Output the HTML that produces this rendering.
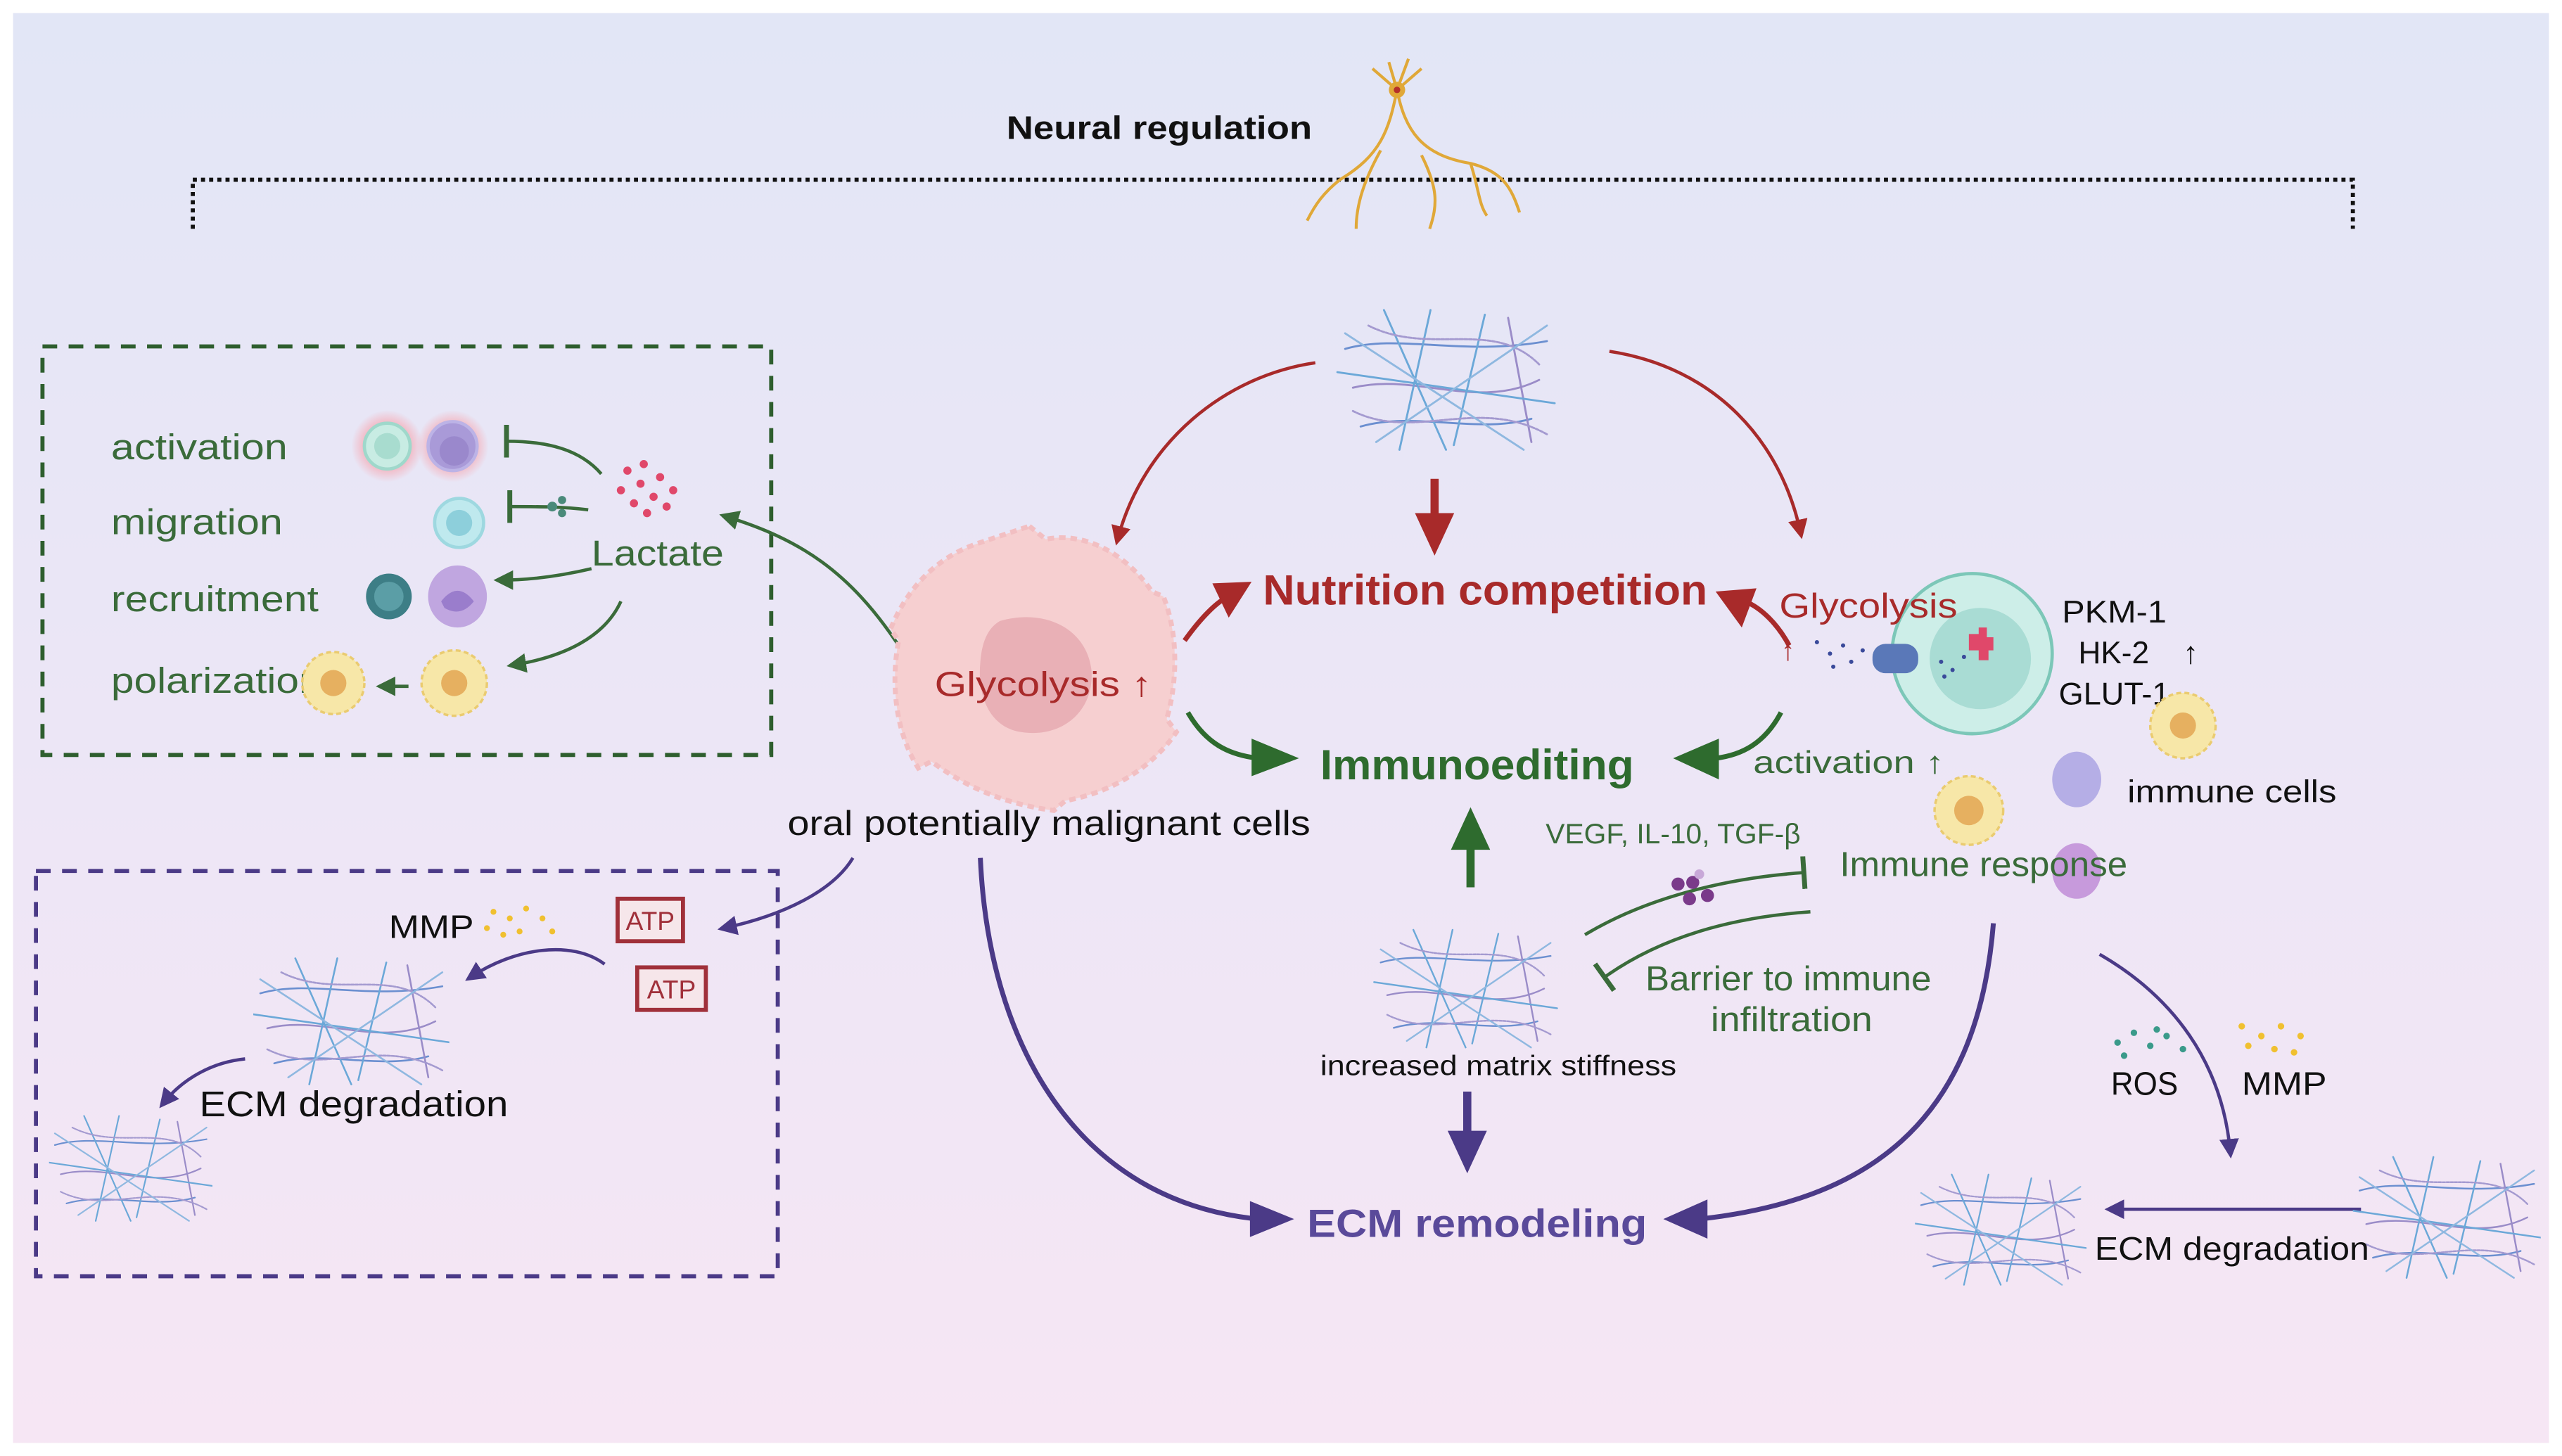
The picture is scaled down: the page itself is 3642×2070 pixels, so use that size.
<!DOCTYPE html>
<html><head><meta charset="utf-8"><style>
html,body{margin:0;padding:0;background:#fff;}
svg{display:block;}
text{font-family:"Liberation Sans",sans-serif;}
</style></head><body>
<svg width="3642" height="2070" viewBox="0 0 1568 891" preserveAspectRatio="none" xmlns="http://www.w3.org/2000/svg">
<defs>
<linearGradient id="bg" x1="0" y1="0" x2="0" y2="1">
<stop offset="0" stop-color="#e2e6f6"/><stop offset="0.5" stop-color="#ece6f6"/><stop offset="1" stop-color="#f6e6f4"/>
</linearGradient>
<radialGradient id="glow"><stop offset="0.6" stop-color="#f3b5c0"/><stop offset="1" stop-color="#f3b5c0" stop-opacity="0"/></radialGradient>
<symbol id="fib" viewBox="0 0 140 100">
<g fill="none" stroke-width="1.3" stroke-linecap="round">
<path d="M5 30 C40 20 80 35 135 25" stroke="#6b8fd0"/>
<path d="M10 55 C50 45 90 70 130 50" stroke="#9a8cc8"/>
<path d="M15 80 C50 70 90 85 125 75" stroke="#6b8fd0"/>
<path d="M30 5 L70 95" stroke="#6ba8d8"/>
<path d="M60 5 L40 95" stroke="#6ba8d8"/>
<path d="M95 8 L75 92" stroke="#6ba8d8"/>
<path d="M110 10 L125 90" stroke="#9a8cc8"/>
<path d="M0 45 L140 65" stroke="#6ba8d8"/>
<path d="M20 15 C60 35 100 10 130 40" stroke="#a49ad0" stroke-dasharray="2 1"/>
<path d="M10 70 C50 90 90 60 135 85" stroke="#a49ad0" stroke-dasharray="2 1"/>
<path d="M5 20 L120 95" stroke="#8fb8e0"/>
<path d="M135 15 L25 90" stroke="#8fb8e0"/>
</g>
</symbol>
<marker id="ag" markerWidth="6" markerHeight="6" refX="4" refY="3" orient="auto"><path d="M0 0L6 3L0 6z" fill="#3a6b3a"/></marker>
<marker id="ar" markerWidth="6" markerHeight="6" refX="4" refY="3" orient="auto"><path d="M0 0L6 3L0 6z" fill="#a82a2a"/></marker>
<marker id="ap" markerWidth="6" markerHeight="6" refX="4" refY="3" orient="auto"><path d="M0 0L6 3L0 6z" fill="#4b3a87"/></marker>
<marker id="tg" markerWidth="2" markerHeight="10" refX="1" refY="5" orient="auto"><path d="M1 0V10" stroke="#3a6b3a" stroke-width="1.5"/></marker>
</defs>
<rect x="0" y="0" width="1568" height="891" fill="#fff"/>
<rect x="8" y="8" width="1552" height="875" fill="url(#bg)"/>

<text x="616" y="85" font-size="20" font-weight="bold" fill="#111" textLength="187" lengthAdjust="spacingAndGlyphs">Neural regulation</text>
<path d="M118 140V110H1440V140" fill="none" stroke="#111" stroke-width="2.5" stroke-dasharray="2.5 2.5"/>
<g stroke="#e0a838" stroke-width="1.8" fill="none">
<path d="M855 55 C850 80 845 95 820 110 C810 118 805 125 800 135"/>
<path d="M855 55 C860 80 870 95 900 100 C920 105 925 115 930 130"/>
<path d="M845 92 C835 110 830 125 830 140"/>
<path d="M870 95 C880 115 880 125 875 140"/>
<path d="M900 100 C905 115 905 125 910 132"/>
<path d="M855 55 L840 42 M855 55 L870 42 M855 55 L850 38 M855 55 L862 36"/>
</g>
<circle cx="855" cy="55" r="5" fill="#e0a838"/><circle cx="855" cy="55" r="2" fill="#b5302a"/>

<rect x="26" y="212" width="446" height="250" fill="none" stroke="#2e5e2e" stroke-width="2.5" stroke-dasharray="9 7"/>
<g font-size="22" fill="#3a6b3a">
<text x="68" y="281" textLength="108" lengthAdjust="spacingAndGlyphs">activation</text>
<text x="68" y="327" textLength="105" lengthAdjust="spacingAndGlyphs">migration</text>
<text x="68" y="374" textLength="127" lengthAdjust="spacingAndGlyphs">recruitment</text>
<text x="68" y="424" textLength="129" lengthAdjust="spacingAndGlyphs">polarization</text>
<text x="362" y="346" textLength="81" lengthAdjust="spacingAndGlyphs">Lactate</text>
</g>
<circle cx="237" cy="273" r="22" fill="url(#glow)"/><circle cx="277" cy="273" r="22" fill="url(#glow)"/>
<circle cx="237" cy="273" r="14" fill="#c8ece3" stroke="#9fd8cb" stroke-width="2"/><circle cx="237" cy="273" r="8" fill="#a8dccf"/>
<circle cx="277" cy="273" r="15" fill="#a99ad8" stroke="#bcb3e6" stroke-width="2"/><circle cx="278" cy="276" r="9" fill="#9a88cc"/>
<circle cx="281" cy="320" r="15" fill="#bfe9ee" stroke="#9ed8e0" stroke-width="2"/><circle cx="281" cy="320" r="8" fill="#8dcfdb"/>
<circle cx="238" cy="365" r="14" fill="#3d7e86"/><circle cx="238" cy="365" r="9" fill="#5b9ea6"/>
<ellipse cx="280" cy="365" rx="18" ry="19" fill="#c0a6e0"/><path d="M270 368 Q280 355 290 368 Q282 378 272 372" fill="#9a7dcc"/>
<g fill="#f7e7a8" stroke="#eacb70" stroke-width="1.5" stroke-dasharray="3 2">
<circle cx="204" cy="418" r="19"/><circle cx="278" cy="418" r="20"/>
</g>
<circle cx="204" cy="418" r="8" fill="#e6b060"/><circle cx="278" cy="418" r="8" fill="#e6b060"/>
<g fill="#e0486a"><circle cx="384" cy="288" r="2.5"/><circle cx="394" cy="284" r="2.5"/><circle cx="380" cy="300" r="2.5"/><circle cx="392" cy="296" r="2.5"/><circle cx="404" cy="292" r="2.5"/><circle cx="388" cy="308" r="2.5"/><circle cx="400" cy="304" r="2.5"/><circle cx="412" cy="300" r="2.5"/><circle cx="396" cy="314" r="2.5"/><circle cx="408" cy="310" r="2.5"/></g>
<g fill="none" stroke="#3a6b3a" stroke-width="2">
<path d="M368 290 C355 275 335 270 310 270" marker-end="url(#tg)"/>
<path d="M360 312 C345 310 330 310 312 310" marker-end="url(#tg)"/>
<path d="M362 348 C345 352 325 355 306 355" marker-end="url(#ag)"/>
<path d="M380 368 C370 390 345 402 314 407" marker-end="url(#ag)"/>
<path d="M250 420 L234 420" marker-end="url(#ag)"/>
<path d="M550 395 C520 350 490 330 444 316" marker-end="url(#ag)"/>
</g>
<g fill="#4a8a7a"><circle cx="338" cy="310" r="3"/><circle cx="344" cy="306" r="2.5"/><circle cx="344" cy="314" r="2.5"/></g>

<rect x="22" y="533" width="454" height="248" fill="none" stroke="#4b3a87" stroke-width="2.5" stroke-dasharray="9 7"/>
<text x="238" y="574" font-size="20" fill="#111" textLength="52" lengthAdjust="spacingAndGlyphs">MMP</text>
<g fill="#f0c030"><circle cx="302" cy="558" r="1.8"/><circle cx="312" cy="562" r="1.8"/><circle cx="322" cy="556" r="1.8"/><circle cx="298" cy="568" r="1.8"/><circle cx="318" cy="570" r="1.8"/><circle cx="332" cy="562" r="1.8"/><circle cx="338" cy="570" r="1.8"/><circle cx="308" cy="572" r="1.8"/></g>
<g font-size="16" fill="#a0303a"><rect x="378" y="550" width="40" height="26" fill="#f6e6ea" stroke="#a0303a" stroke-width="2.5"/><text x="383" y="569">ATP</text>
<rect x="390" y="592" width="42" height="26" fill="#f6e6ea" stroke="#a0303a" stroke-width="2.5"/><text x="396" y="611">ATP</text></g>
<use href="#fib" x="155" y="580" width="120" height="90"/>
<use href="#fib" x="30" y="675" width="100" height="80"/>
<text x="122" y="683" font-size="22" fill="#111" textLength="189" lengthAdjust="spacingAndGlyphs">ECM degradation</text>
<g fill="none" stroke="#4b3a87" stroke-width="2">
<path d="M370 590 C350 575 315 580 288 598" marker-end="url(#ap)"/>
<path d="M150 648 C130 650 112 660 100 675" marker-end="url(#ap)"/>
<path d="M522 525 C510 545 480 560 443 568" marker-end="url(#ap)"/>
</g>

<path d="M630 322 L640 330 C665 325 690 340 705 362 L712 365 C722 390 720 420 714 440 L720 448 C705 470 680 485 652 490 L645 496 C615 492 592 482 570 466 L562 470 C548 448 545 418 550 392 L545 385 C556 358 575 340 600 332 Z" fill="#f6cfd0" stroke="#f2bfc2" stroke-width="3" stroke-dasharray="4 3"/>
<path d="M612 380 C640 372 665 385 668 410 C670 435 650 452 625 448 C605 445 598 425 600 405 C601 392 605 384 612 380Z" fill="#e9b0b6"/>
<text x="572" y="426" font-size="21" fill="#a82a2a" textLength="133" lengthAdjust="spacingAndGlyphs">Glycolysis ↑</text>
<text x="482" y="511" font-size="21" fill="#111" textLength="320" lengthAdjust="spacingAndGlyphs">oral potentially malignant cells</text>

<use href="#fib" x="815" y="185" width="140" height="95"/>
<g fill="none" stroke="#a82a2a" stroke-width="2">
<path d="M805 222 C750 230 700 270 684 330" marker-end="url(#ar)"/>
<path d="M985 215 C1050 225 1090 270 1102 326" marker-end="url(#ar)"/>
</g>
<path d="M878 293V318" stroke="#a82a2a" stroke-width="5"/><path d="M866 314L878 340L890 314z" fill="#a82a2a"/>
<text x="773" y="370" font-size="26" font-weight="bold" fill="#a82a2a" textLength="272" lengthAdjust="spacingAndGlyphs">Nutrition competition</text>
<path d="M725 392 C735 378 745 368 752 365" fill="none" stroke="#a82a2a" stroke-width="3"/><path d="M742 357L766 356L752 378z" fill="#a82a2a"/>
<path d="M1095 395 C1088 382 1078 372 1068 368" fill="none" stroke="#a82a2a" stroke-width="3"/><path d="M1050 362L1075 360L1066 384z" fill="#a82a2a"/>

<text x="808" y="477" font-size="26" font-weight="bold" fill="#2e6b2e" textLength="192" lengthAdjust="spacingAndGlyphs">Immunoediting</text>
<path d="M727 436 C738 455 752 462 770 464" fill="none" stroke="#2e6b2e" stroke-width="3"/><path d="M766 452L795 464L766 475z" fill="#2e6b2e"/>
<path d="M1090 436 C1080 455 1066 462 1050 464" fill="none" stroke="#2e6b2e" stroke-width="3"/><path d="M1052 452L1024 464L1052 477z" fill="#2e6b2e"/>
<path d="M900 543V515" stroke="#2e6b2e" stroke-width="5"/><path d="M888 520L900 494L912 520z" fill="#2e6b2e"/>

<circle cx="1207" cy="400" r="49" fill="#cdeee8" stroke="#7cc7b8" stroke-width="2"/>
<circle cx="1212" cy="403" r="31" fill="#a9dcd4"/>
<path d="M1205 388h6v-4h5v6h4v8h-3v6h-6v-6h-6z" fill="#e0486a"/>
<rect x="1146" y="394" width="28" height="18" rx="8" fill="#5a78b8"/>
<g fill="#3a4a9a"><circle cx="1112" cy="393" r="1.3"/><circle cx="1120" cy="400" r="1.3"/><circle cx="1128" cy="395" r="1.3"/><circle cx="1133" cy="405" r="1.3"/><circle cx="1122" cy="408" r="1.3"/><circle cx="1140" cy="398" r="1.3"/><circle cx="1188" cy="405" r="1.3"/><circle cx="1195" cy="410" r="1.3"/><circle cx="1202" cy="402" r="1.3"/><circle cx="1190" cy="414" r="1.3"/></g>
<text x="1089" y="378" font-size="21" fill="#a82a2a" textLength="109" lengthAdjust="spacingAndGlyphs">Glycolysis</text>
<text x="1090" y="404" font-size="17" fill="#a82a2a">↑</text>
<g font-size="19" fill="#111"><text x="1262" y="381" textLength="64" lengthAdjust="spacingAndGlyphs">PKM-1</text><text x="1272" y="406">HK-2</text><text x="1336" y="406">↑</text><text x="1260" y="431" textLength="68" lengthAdjust="spacingAndGlyphs">GLUT-1</text><text x="1302" y="491" textLength="128" lengthAdjust="spacingAndGlyphs">immune cells</text></g>
<g fill="#f7e7a8" stroke="#eacb70" stroke-width="1.5" stroke-dasharray="3 2"><circle cx="1336" cy="444" r="20"/><circle cx="1205" cy="496" r="21"/></g>
<circle cx="1336" cy="444" r="8" fill="#e6b060"/><circle cx="1205" cy="496" r="9" fill="#e6b060"/>
<ellipse cx="1271" cy="477" rx="15" ry="17" fill="#b5aee6"/><ellipse cx="1271" cy="533" rx="15" ry="17" fill="#c79adc"/>
<text x="1073" y="473" font-size="19" fill="#3a6b3a" textLength="117" lengthAdjust="spacingAndGlyphs">activation ↑</text>
<text x="946" y="516" font-size="17" fill="#3a6b3a" textLength="156" lengthAdjust="spacingAndGlyphs">VEGF, IL-10, TGF-β</text>
<text x="1126" y="536" font-size="21" fill="#3a6b3a" textLength="176" lengthAdjust="spacingAndGlyphs">Immune response</text>
<text x="1007" y="606" font-size="21" fill="#3a6b3a" textLength="175" lengthAdjust="spacingAndGlyphs">Barrier to immune</text>
<text x="1047" y="631" font-size="21" fill="#3a6b3a" textLength="99" lengthAdjust="spacingAndGlyphs">infiltration</text>
<g fill="none" stroke="#3a6b3a" stroke-width="2">
<path d="M970 572 C1010 548 1060 537 1104 534" marker-end="url(#tg)"/>
<path d="M1108 558 C1050 562 1010 578 982 598" marker-end="url(#tg)"/>
</g>
<g fill="#7a3a8a"><circle cx="1027" cy="541" r="4"/><circle cx="1036" cy="540" r="4"/><circle cx="1034" cy="550" r="4"/><circle cx="1045" cy="548" r="4"/><circle cx="1040" cy="535" r="3" fill="#c8a8d8"/></g>
<use href="#fib" x="838" y="565" width="118" height="80"/>
<text x="808" y="658" font-size="17" fill="#111" textLength="218" lengthAdjust="spacingAndGlyphs">increased matrix stiffness</text>
<path d="M898 668V695" stroke="#4b3a87" stroke-width="5"/><path d="M886 692L898 718L910 692z" fill="#4b3a87"/>

<text x="800" y="757" font-size="24" font-weight="bold" fill="#5a4a9a" textLength="208" lengthAdjust="spacingAndGlyphs">ECM remodeling</text>
<path d="M600 525 C605 640 660 735 770 746" fill="none" stroke="#4b3a87" stroke-width="3"/><path d="M765 735L792 746L765 757z" fill="#4b3a87"/>
<path d="M1220 565 C1210 690 1140 735 1040 746" fill="none" stroke="#4b3a87" stroke-width="3"/><path d="M1045 734L1018 746L1045 758z" fill="#4b3a87"/>

<g fill="#3a9a8a"><circle cx="1296" cy="638" r="2"/><circle cx="1306" cy="632" r="2"/><circle cx="1316" cy="640" r="2"/><circle cx="1326" cy="634" r="2"/><circle cx="1336" cy="642" r="2"/><circle cx="1300" cy="646" r="2"/><circle cx="1320" cy="630" r="2"/></g>
<g fill="#f0c030"><circle cx="1372" cy="628" r="2"/><circle cx="1384" cy="634" r="2"/><circle cx="1396" cy="628" r="2"/><circle cx="1408" cy="634" r="2"/><circle cx="1376" cy="640" r="2"/><circle cx="1392" cy="642" r="2"/><circle cx="1404" cy="644" r="2"/></g>
<text x="1292" y="670" font-size="20" fill="#111" textLength="41" lengthAdjust="spacingAndGlyphs">ROS</text>
<text x="1372" y="670" font-size="20" fill="#111" textLength="52" lengthAdjust="spacingAndGlyphs">MMP</text>
<path d="M1285 584 C1330 610 1360 650 1365 705" fill="none" stroke="#4b3a87" stroke-width="2" marker-end="url(#ap)"/>
<path d="M1445 740H1292" stroke="#4b3a87" stroke-width="2" marker-end="url(#ap)"/>
<use href="#fib" x="1440" y="695" width="115" height="100"/>
<use href="#fib" x="1172" y="710" width="105" height="85"/>
<text x="1282" y="771" font-size="20" fill="#111" textLength="168" lengthAdjust="spacingAndGlyphs">ECM degradation</text>
</svg>
</body></html>
